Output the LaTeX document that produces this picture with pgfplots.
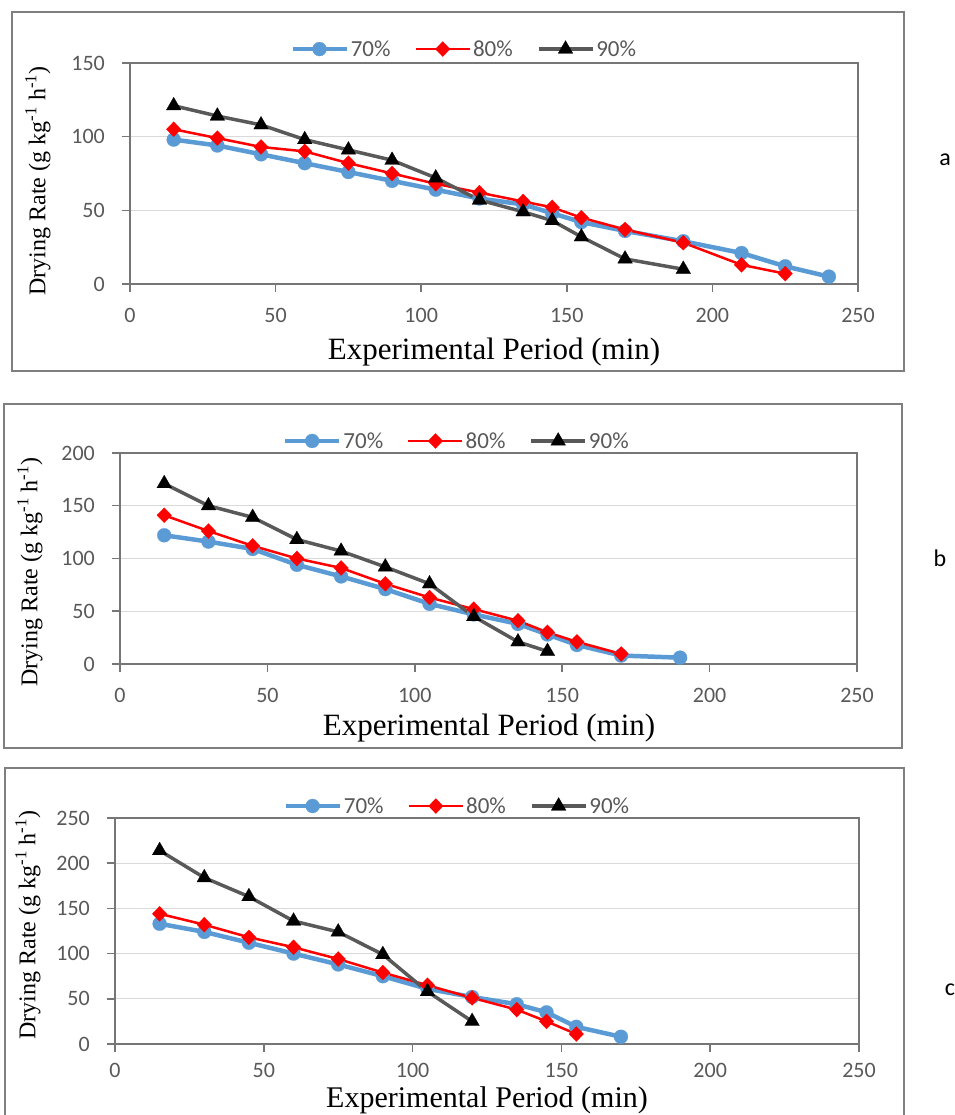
\documentclass[border=0pt]{standalone}
\usepackage{pgfplots}
\pgfplotsset{compat=1.18}
\usepackage{fontspec}
\setmainfont{Liberation Serif}
\newfontfamily\calibri{Carlito}
\definecolor{c70}{HTML}{5B9BD5}
\definecolor{c80}{HTML}{FF0000}
\definecolor{c90}{HTML}{595959}
\definecolor{tickgray}{HTML}{595959}
\definecolor{axisgray}{HTML}{767676}
\definecolor{gridgray}{HTML}{D9D9D9}
\definecolor{framegray}{HTML}{7F7F7F}
\pgfplotsset{
 panel/.style={
  scale only axis, anchor=south west,
  xmin=0, xmax=250, xtick={0,50,100,150,200,250}, ymin=0,
  axis line style={draw=axisgray, line width=1.5pt},
  every tick/.style={draw=axisgray, line width=1.5pt},
  tick align=outside, major tick length=8pt,
  xtick pos=bottom, ytick pos=left,
  ymajorgrids, major grid style={draw=gridgray, line width=1.3pt},
  ticklabel style={font=\calibri\fontsize{22}{26}\selectfont, text=tickgray, inner sep=0pt},
  xticklabel style={anchor=center, yshift=-23pt},
  yticklabel style={anchor=east, xshift=-17pt},
  /pgf/number format/assume math mode=true,
  legend columns=3,
  legend style={draw=none, fill=none, font=\calibri\fontsize{23}{27}\selectfont, text=tickgray, anchor=center, column sep=0pt, /tikz/every even column/.append style={column sep=22pt}, nodes={inner sep=2pt}},
  legend image code/.code={\draw[mark repeat=2,mark phase=2,##1] plot coordinates {(0pt,0pt)(27pt,0pt)(54pt,0pt)};},
 },
 s70/.style={color=c70, line width=4.5pt, mark=*, mark size=7pt, mark options={solid, fill=c70, draw=c70, line width=0.2pt}},
 s80/.style={color=c80, line width=2.5pt, mark=diamond*, mark size=7.5pt, mark options={solid, fill=c80, draw=c80, line width=0.2pt, xscale=1.3}},
 s90/.style={color=c90, line width=3.5pt, mark=triangle*, mark size=8.5pt, mark options={solid, fill=black, draw=black, line width=0.2pt}},
}
\begin{document}
\begin{tikzpicture}[x=1pt,y=1pt]
\useasboundingbox (0,0) rectangle (954,1115);
\fill[white] (0,0) rectangle (954,1115);
% frames
\draw[framegray, line width=1.5pt] (12,1103) rectangle (904,744);
\draw[framegray, line width=1.5pt] (4,711) rectangle (902,367);
\draw[framegray, line width=1.5pt] (5,347) rectangle (904,-10);

% Panel a
\begin{axis}[panel, at={(130pt,831pt)}, width=728pt, height=221pt,
  ymax=150, ytick={0,50,100,150},
  legend style={at={(0.459,1.063)}}]
\addplot[s70] coordinates {(15,98)(30,94)(45,88)(60,82)(75,76)(90,70)(105,64)(120,58)(135,54)(145,48)(155,42)(170,36)(190,29)(210,21)(225,12)(240,5)};
\addplot[s80] coordinates {(15,105)(30,99)(45,93)(60,90)(75,82)(90,75)(105,68)(120,62)(135,56)(145,52)(155,45)(170,37)(190,28)(210,13)(225,7)};
\addplot[s90] coordinates {(15,121)(30,114)(45,108)(60,98)(75,91)(90,84)(105,72)(120,57)(135,49)(145,43)(155,32)(170,17)(190,10)};
\legend{70\%,80\%,90\%}
\end{axis}

% Panel b
\begin{axis}[panel, at={(120pt,451pt)}, width=737pt, height=211pt,
  ymax=200, ytick={0,50,100,150,200},
  legend style={at={(0.457,1.057)}}]
\addplot[s70] coordinates {(15,122)(30,116)(45,109)(60,94)(75,83)(90,71)(105,57)(120,47)(135,38)(145,28)(155,18)(170,8)(190,6)};
\addplot[s80] coordinates {(15,141)(30,126)(45,112)(60,100)(75,91)(90,76)(105,63)(120,52)(135,41)(145,30)(155,21)(170,9.5)};
\addplot[s90] coordinates {(15,171)(30,150)(45,139)(60,118)(75,107)(90,92)(105,76)(120,45)(135,21)(145,12)};
\legend{70\%,80\%,90\%}
\end{axis}

% Panel c
\begin{axis}[panel, at={(115pt,71pt)}, width=744pt, height=226pt,
  ymax=250, ytick={0,50,100,150,200,250},
  xticklabel style={yshift=5pt},
  legend style={at={(0.46,1.053)}}]
\addplot[s70] coordinates {(15,133)(30,124)(45,112)(60,100)(75,88)(90,75)(105,61)(120,52)(135,44)(145,35)(155,19)(170,8)};
\addplot[s80] coordinates {(15,144)(30,132)(45,118)(60,107)(75,94)(90,79)(105,65)(120,51)(135,38)(145,25)(155,11)};
\addplot[s90] coordinates {(15,214)(30,184)(45,163)(60,136)(75,124)(90,99)(105,58)(120,25)};
\legend{70\%,80\%,90\%}
\end{axis}

% axis labels
\begin{scope}[every node/.style={inner sep=0pt}]
\node[font=\fontsize{31}{36}\selectfont] at (494,763) {Experimental Period (min)};
\node[font=\fontsize{31}{36}\selectfont] at (489,387) {Experimental Period (min)};
\node[font=\fontsize{30}{35}\selectfont] at (487,15) {Experimental Period (min)};
\node[font=\fontsize{24}{28}\selectfont, rotate=90] at (38,934) {Drying Rate (g kg\textsuperscript{-1} h\textsuperscript{-1})};
\node[font=\fontsize{24}{28}\selectfont, rotate=90] at (30,543) {Drying Rate (g kg\textsuperscript{-1} h\textsuperscript{-1})};
\node[font=\fontsize{24}{28}\selectfont, rotate=90] at (28,190) {Drying Rate (g kg\textsuperscript{-1} h\textsuperscript{-1})};
\node[font=\calibri\fontsize{24}{28}\selectfont] at (945,955) {a};
\node[font=\calibri\fontsize{24}{28}\selectfont] at (940,557) {b};
\node[font=\calibri\fontsize{24}{28}\selectfont] at (950,125) {c};
\end{scope}
\end{tikzpicture}
\end{document}
